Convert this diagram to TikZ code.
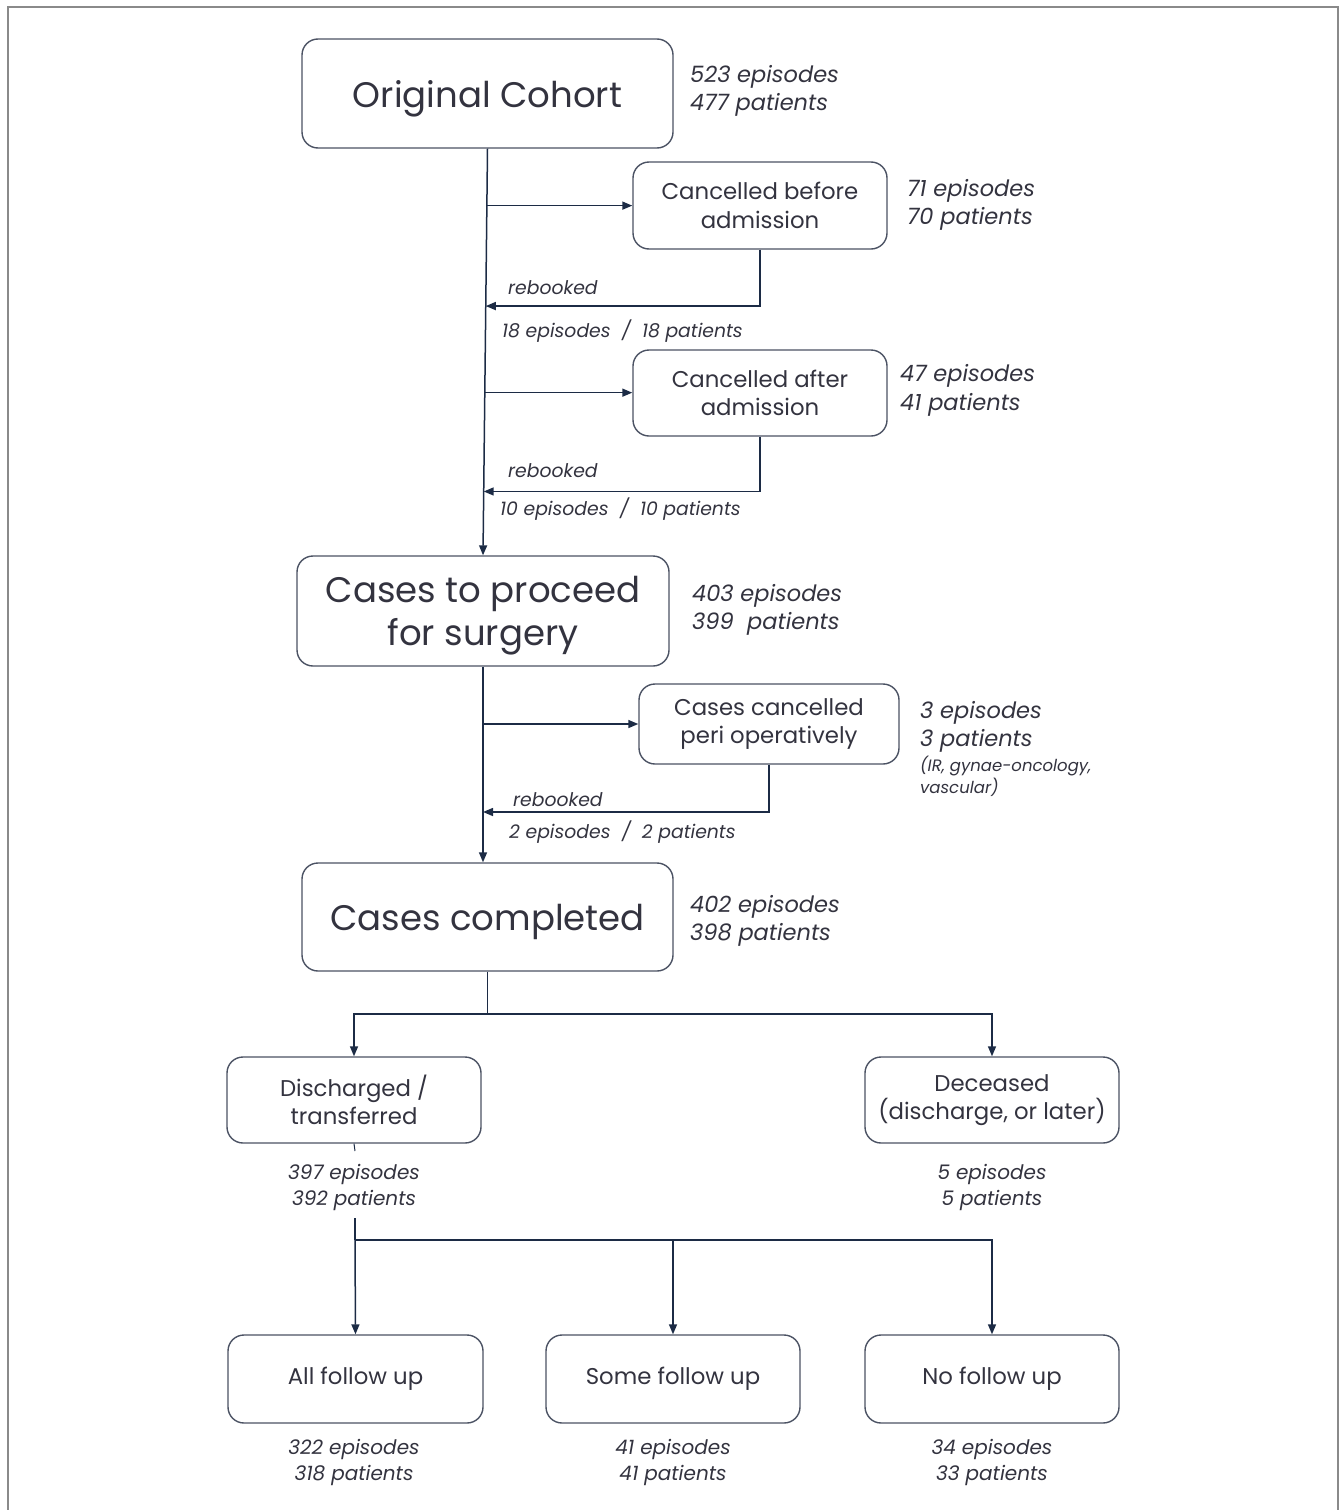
\documentclass[tikz,border=0pt]{standalone}
\usepackage{fontspec}
\setmainfont{Poppins}
\usetikzlibrary{arrows.meta,calc}
\definecolor{boxc}{HTML}{4B5263}
\definecolor{linec}{HTML}{1C2B45}
\definecolor{txtc}{HTML}{33333F}
\definecolor{framec}{HTML}{8A8A8A}
\tikzset{
  box/.style={draw=boxc, line width=1.4pt, rounded corners=16pt, text=txtc, align=center, inner sep=0pt},
  bigbox/.style={box, text depth=0pt, font=\fontsize{35.5}{43}\selectfont},
  midbox/.style={box, font=\fontsize{22.8}{28.5}\selectfont},
  side/.style={text=txtc, align=left, anchor=west, inner sep=0pt, font=\fontsize{22.5}{28.5}\selectfont\itshape},
  under/.style={text=txtc, align=center, inner sep=0pt, font=\fontsize{20}{26}\selectfont\itshape},
  small/.style={text=txtc, align=left, anchor=west, inner sep=0pt, font=\fontsize{18.8}{24}\selectfont\itshape},
  tiny/.style={text=txtc, align=left, anchor=west, inner sep=0pt, font=\fontsize{16.5}{22}\selectfont\itshape},
  conn/.style={draw=linec, line width=1.5pt},
  arr/.style={conn, -{Triangle[length=10pt,width=8pt]}},
}
\begin{document}
\begin{tikzpicture}[x=1pt,y=-1pt]
\useasboundingbox (0,0) rectangle (1341,1510);
\draw[framec, line width=1.5pt] (8,1512) -- (8,7) -- (1338,7) -- (1338,1512);

% boxes
\node[bigbox, minimum width=371pt, minimum height=109pt] (orig) at (487.5,93.5) {Original Cohort};
\node[midbox, minimum width=254pt, minimum height=87pt] (cba) at (760,205.5) {Cancelled before\\admission};
\node[midbox, minimum width=254pt, minimum height=86pt] (caa) at (760,393) {Cancelled after\\admission};
\node[bigbox, minimum width=372pt, minimum height=110pt] (proc) at (483,611) {Cases to proceed\\for surgery};
\node[midbox, minimum width=260pt, minimum height=80pt] (peri) at (769,724) {Cases cancelled\\peri operatively};
\node[bigbox, minimum width=371pt, minimum height=108pt] (comp) at (487.5,917) {Cases completed};
\node[midbox, minimum width=254pt, minimum height=86pt] (dis) at (354,1100) {Discharged /\\transferred};
\node[midbox, minimum width=254pt, minimum height=86pt] (dec) at (992,1100) {Deceased\\(discharge, or later)};
\node[midbox, minimum width=255pt, minimum height=88pt] (allf) at (355.5,1379) {All follow up};
\node[midbox, minimum width=254pt, minimum height=88pt] (somef) at (673,1379) {Some follow up};
\node[midbox, minimum width=254pt, minimum height=88pt] (nof) at (992,1379) {No follow up};

% side texts
\node[side] (origs) at (690,91) {523 episodes\\477 patients};
\node[side] (cbas) at (907,205) {71 episodes\\70 patients};
\node[side] (caas) at (900,390.5) {47 episodes\\41 patients};
\node[side] (procs) at (692,610) {403 episodes\\399~~patients};
\node[side] (peris) at (920,727) {3 episodes\\3 patients};
\node[tiny] (perit) at (920,776) {(IR, gynae-oncology,\\vascular)};
\node[side] (comps) at (690,921) {402 episodes\\398 patients};
\node[under] (disu) at (354,1187) {397 episodes\\392 patients};
\node[under] (decu) at (992,1187) {5 episodes\\5 patients};
\node[under] (allu) at (354,1462.5) {322 episodes\\318 patients};
\node[under] (someu) at (673,1462) {41 episodes\\41 patients};
\node[under] (nou) at (992,1462) {34 episodes\\33 patients};

% rebooked labels
\node[small] (rb1) at (508,288) {rebooked};
\node[small] (rn1) at (502,331) {18 episodes~ /~ 18 patients};
\node[small] (rb2) at (508,471) {rebooked};
\node[small] (rn2) at (500,509) {10 episodes~ /~ 10 patients};
\node[small] (rb3) at (513,800) {rebooked};
\node[small] (rn3) at (509,832) {2 episodes~ /~ 2 patients};

% main trunk 1
\draw[arr] (orig.south) -- (proc.north);
\coordinate (b1) at ($(orig.south)!0.14!(proc.north)$);
\coordinate (b2) at ($(orig.south)!0.60!(proc.north)$);
\coordinate (r1) at ($(orig.south)!0.387!(proc.north)$);
\coordinate (r2) at ($(orig.south)!0.843!(proc.north)$);
\draw[arr] (b1) -- (b1 -| cba.west);
\draw[arr] (b2) -- (b2 -| caa.west);
\draw[arr] (cba.south) |- (r1);
\draw[arr] (caa.south) |- (r2);

% main trunk 2
\draw[arr] (proc.south) -- (proc.south |- comp.north);
\coordinate (b3) at (proc.south |- peri.west);
\coordinate (r3) at (proc.south |- 0,812);
\draw[arr] (b3) -- (peri.west);
\draw[arr] (peri.south) |- (r3);

% split after completed
\coordinate (j1) at (comp.south |- 0,1014);
\draw[conn] (comp.south) -- (j1);
\draw[arr] (j1) -| (dis.north);
\draw[arr] (j1) -| (dec.north);

% split after discharged
\coordinate (st) at (355,1151);
\coordinate (j2t) at (355,1218);
\coordinate (j2) at (355,1240);
\draw[conn, line width=1pt] (dis.south) -- (st);
\draw[conn] (j2t) -- (j2);
\draw[arr] (j2) -- (allf.north);
\draw[arr] (j2) -| (somef.north);
\draw[arr] (j2) -| (nof.north);
\end{tikzpicture}
\end{document}
